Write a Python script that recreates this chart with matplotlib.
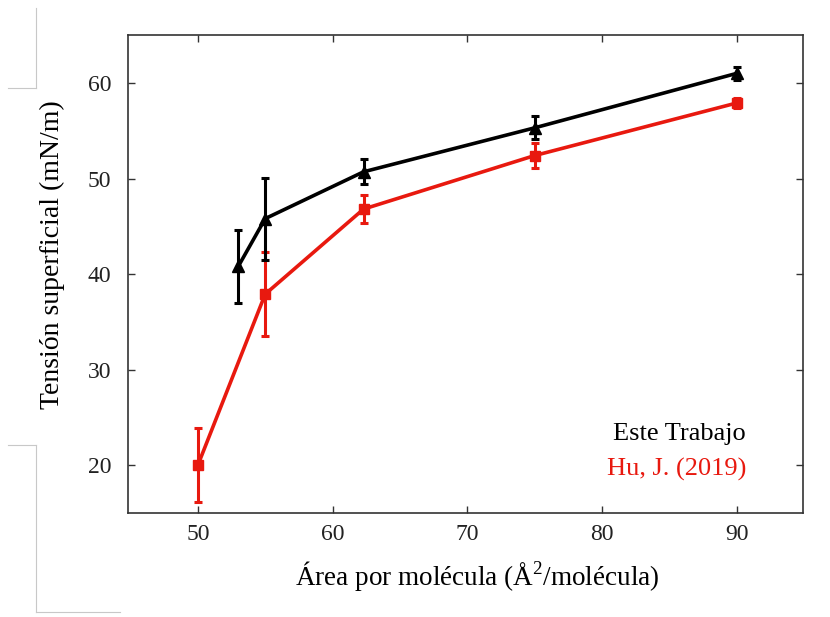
import matplotlib
matplotlib.use("Agg")
import matplotlib.pyplot as plt
from matplotlib.lines import Line2D

# Este Trabajo
area_este = [53.0, 55.0, 62.3, 75.0, 90.0]
tension_este = [40.8, 45.8, 50.7, 55.3, 61.0]
err_este = [3.8, 4.3, 1.3, 1.2, 0.7]

# Hu, J. (2019)
area_hu = [50.0, 55.0, 62.3, 75.0, 90.0]
tension_hu = [20.0, 37.9, 46.8, 52.4, 57.9]
err_hu = [3.9, 4.4, 1.5, 1.35, 0.5]

xticks = [50, 60, 70, 80, 90]
yticks = [20, 30, 40, 50, 60]

plt.rcParams["font.family"] = ["Liberation Serif", "DejaVu Serif"]
plt.rcParams["mathtext.fontset"] = "custom"
plt.rcParams["mathtext.rm"] = "Liberation Serif"

fig = plt.figure(figsize=(8.30, 6.17), dpi=100)
ax = fig.add_axes([0.154, 0.1686, 0.813, 0.7744])

red = "#e8190f"
ax.errorbar(area_hu, tension_hu, yerr=err_hu, color=red, marker="s", ms=7,
            lw=2.6, elinewidth=2.2, capsize=3, capthick=2.2, zorder=2)
ax.errorbar(area_este, tension_este, yerr=err_este, color="black", marker="^",
            ms=8.5, lw=2.6, elinewidth=2.2, capsize=3, capthick=2.2, zorder=3)

ax.set_xlim(44.8, 94.9)
ax.set_ylim(15, 65)
ax.set_xticks(xticks)
ax.set_yticks(yticks)
ax.tick_params(direction="in", top=True, right=True, length=5, width=1,
               color="#333333", labelsize=17, labelcolor="#222222")
ax.tick_params(axis="y", pad=12)
ax.tick_params(axis="x", pad=8)
for s in ax.spines.values():
    s.set_color("#333333")
    s.set_linewidth(1.2)

ax.set_xlabel(r"Área por molécula (Å$^{2}$/molécula)", fontsize=19.5,
              labelpad=10)
ax.set_ylabel("Tensión superficial (mN/m)", fontsize=20, labelpad=16)
ax.xaxis.label.set_x(0.518)
ax.yaxis.label.set_y(0.54)

ax.text(0.916, 0.166, "Este Trabajo", transform=ax.transAxes, ha="right",
        va="center", fontsize=19, color="black")
ax.text(0.916, 0.091, "Hu, J. (2019)", transform=ax.transAxes, ha="right",
        va="center", fontsize=19, color=red)

# thin gray frame fragments along the left margin
gray = "#c8c8c8"
W, H = 830.0, 617.0
def seg(x0, y0, x1, y1):
    fig.add_artist(Line2D([x0 / W, x1 / W], [1 - y0 / H, 1 - y1 / H],
                          color=gray, lw=0.8, transform=fig.transFigure))
seg(36, 8, 36, 88)
seg(8, 88, 36, 88)
seg(8, 445, 36, 445)
seg(36, 445, 36, 612)
seg(36, 612, 120, 612)

fig.savefig("out.png", dpi=100)
